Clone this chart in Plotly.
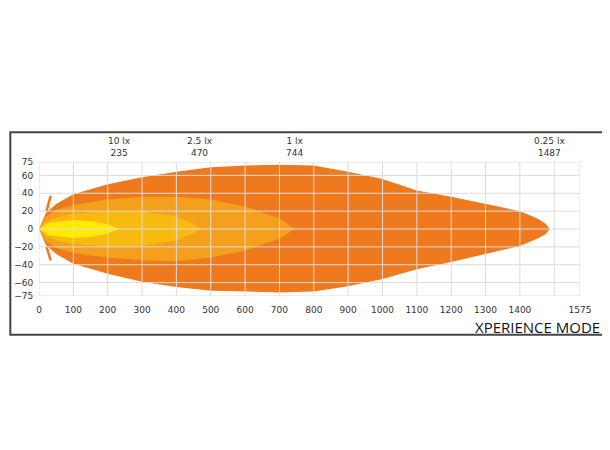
import plotly.graph_objects as go

# outer (0.25 lx) envelope
x1 = [0, 20, 50, 100, 200, 300, 400, 500, 600, 700, 800, 900, 1000, 1100, 1200, 1300, 1400, 1450, 1475, 1487]
u1 = [0, 18, 28, 39, 50, 58, 64, 69, 71, 72, 71, 64, 56, 43, 36, 28, 20, 12, 6, 0]
l1 = [0, -18, -28, -39, -50, -59, -65, -69, -70, -71, -70, -64, -56, -45, -37, -28, -19, -11, -6, 0]
# 1 lx
x2 = [0, 20, 50, 100, 200, 300, 400, 500, 600, 700, 744]
u2 = [0, 14, 21, 27, 33, 36, 36, 33, 25, 12, 0]
l2 = [0, -14, -21, -27, -32, -35, -36, -32, -24, -11, 0]
# 2.5 lx
x3 = [0, 20, 50, 100, 200, 300, 400, 450, 470]
u3 = [0, 8, 13, 17, 20, 20, 14, 6, 0]
l3 = [0, -8, -13, -17, -19, -19, -13, -5, 0]
# 10 lx
x4 = [0, 30, 100, 150, 200, 235]
u4 = [0, 7, 10, 9, 5, 0]
l4 = [0, -7, -10, -9, -5, 0]

lux_labels = ["10 lx", "2.5 lx", "1 lx", "0.25 lx"]
lux_dist = [235, 470, 744, 1487]
xticks = [0, 100, 200, 300, 400, 500, 600, 700, 800, 900, 1000, 1100, 1200, 1300, 1400, 1500, 1575]
xticktext = ["0", "100", "200", "300", "400", "500", "600", "700", "800", "900", "1000", "1100", "1200", "1300", "1400", "", "1575"]
yticks = [75, 60, 40, 20, 0, -20, -40, -60, -75]

colors = ["#EF7A1E", "#F5A01C", "#F9BA10", "#FFEB00"]
grid = "#dcdcdc"

fig = go.Figure()
for xs, us, ls, c in [(x1, u1, l1, colors[0]), (x2, u2, l2, colors[1]), (x3, u3, l3, colors[2]), (x4, u4, l4, colors[3])]:
    fig.add_trace(go.Scatter(x=xs + xs[::-1], y=us + ls[::-1], fill="toself", fillcolor=c,
                             line=dict(width=0, color=c), mode="lines", hoverinfo="skip"))
fig.add_trace(go.Scatter(x=[22, 34], y=[20, 37], mode="lines", line=dict(color=colors[0], width=2.5)))
fig.add_trace(go.Scatter(x=[22, 34], y=[-20, -35], mode="lines", line=dict(color=colors[0], width=2.5)))

# grid drawn above the fills
for xv in xticks:
    fig.add_shape(type="line", xref="x", yref="paper", x0=xv, x1=xv, y0=0, y1=1,
                  line=dict(color=grid, width=1), layer="above")
for yv in yticks:
    fig.add_shape(type="line", xref="paper", yref="y", x0=0, x1=1, y0=yv, y1=yv,
                  line=dict(color=grid, width=1), layer="above")

for lab, d in zip(lux_labels, lux_dist):
    fig.add_annotation(x=d, y=1.0, xref="x", yref="paper", yanchor="bottom", showarrow=False,
                       text=f"{lab}<br>{d}", font=dict(size=9, color="#333", family="DejaVu Sans"),
                       yshift=2)
fig.add_annotation(x=1.04, y=-0.14, xref="paper", yref="paper", xanchor="right", yanchor="top",
                   showarrow=False, text="XPERIENCE MODE",
                   font=dict(size=15, color="#111", family="Open Sans"))
fig.add_shape(type="rect", xref="paper", yref="paper", x0=-0.053, x1=1.066, y0=-0.29, y1=1.222,
              line=dict(color="#444", width=2))

fig.update_xaxes(range=[0, 1575], tickvals=xticks, ticktext=xticktext, showgrid=False,
                 zeroline=False, automargin=False, ticks="outside", ticklen=5, tickcolor="white",
                 tickfont=dict(size=9, color="#333", family="DejaVu Sans"), showline=False)
fig.update_yaxes(range=[-75, 75], tickvals=yticks, showgrid=False,
                 zeroline=False, automargin=False, ticks="outside", ticklen=3, tickcolor="white",
                 tickfont=dict(size=9, color="#333", family="DejaVu Sans"), showline=False)
fig.update_layout(width=610, height=450, showlegend=False, plot_bgcolor="white", paper_bgcolor="white",
                  margin=dict(l=31, r=38, t=154, b=162))
fig.write_html("out.html")
